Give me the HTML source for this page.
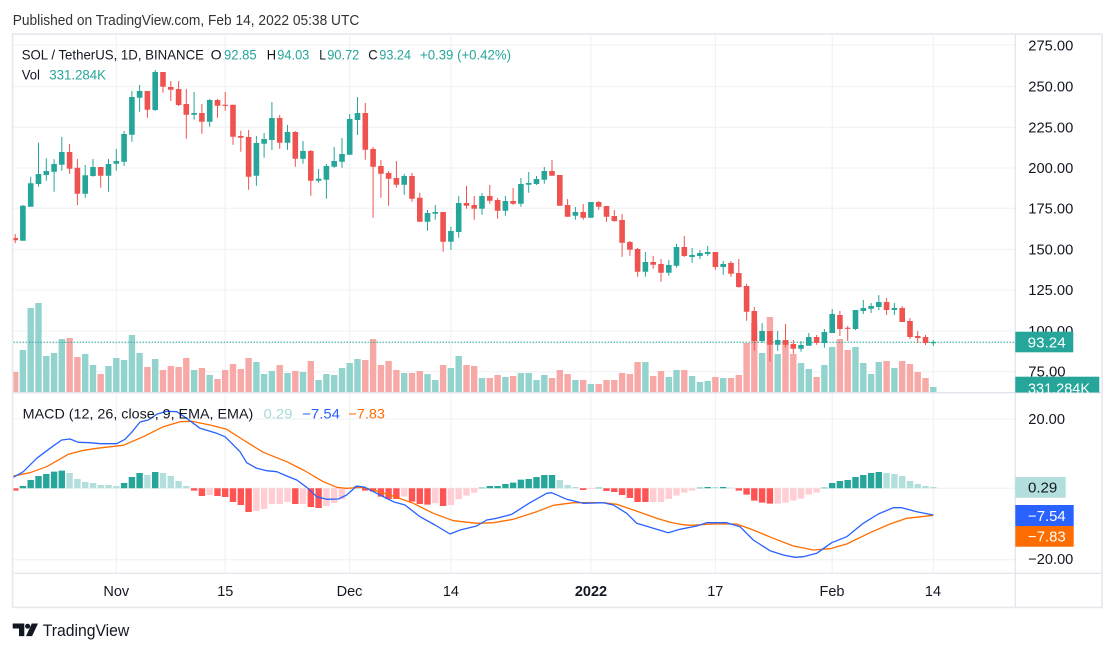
<!DOCTYPE html>
<html><head><meta charset="utf-8"><style>
html,body{margin:0;padding:0;background:#fff;width:1115px;height:652px;overflow:hidden}
svg{display:block}
text{font-family:"Liberation Sans",Arial,sans-serif}
</style></head><body>
<svg width="1115" height="652" viewBox="0 0 1115 652" xmlns="http://www.w3.org/2000/svg">
<defs>
<clipPath id="cp"><rect x="13.5" y="35" width="1001.5" height="357"/></clipPath>
<clipPath id="cm"><rect x="13.5" y="394" width="1001.5" height="179"/></clipPath>
<clipPath id="ca"><rect x="1015" y="35" width="86" height="357.5"/></clipPath>
</defs>
<rect width="1115" height="652" fill="#fff"/>
<text x="12.7" y="25" font-size="14.5" fill="#333" textLength="346.6" lengthAdjust="spacingAndGlyphs">Published on TradingView.com, Feb 14, 2022 05:38 UTC</text>

<!-- grid -->
<g stroke="#eef0f3" stroke-width="1">
<path d="M13.5 45H1015M13.5 86.7H1015M13.5 127.3H1015M13.5 168H1015M13.5 208.3H1015M13.5 249.3H1015M13.5 290H1015M13.5 331H1015M13.5 371.7H1015"/>
<path d="M13.5 419H1015M13.5 488.3H1015M13.5 559.7H1015"/>
<path d="M116.3 35V573M225.2 35V573M349.7 35V573M450.9 35V573M590.9 35V573M715.4 35V573M832.2 35V573M933.3 35V573"/>
</g>

<g clip-path="url(#cp)">
<!-- volume green -->
<path fill="#92d3cd" d="M19.7 350h6.4V392h-6.4zM27.5 308h6.4V392h-6.4zM35.3 303h6.4V392h-6.4zM43.1 356h6.4V392h-6.4zM50.9 353h6.4V392h-6.4zM58.6 339h6.4V392h-6.4zM82 354h6.4V392h-6.4zM89.8 365h6.4V392h-6.4zM105.3 366h6.4V392h-6.4zM113.1 358h6.4V392h-6.4zM120.9 360h6.4V392h-6.4zM128.7 335h6.4V392h-6.4zM136.4 353h6.4V392h-6.4zM152 359h6.4V392h-6.4zM190.9 370h6.4V392h-6.4zM206.5 375h6.4V392h-6.4zM253.2 362h6.4V392h-6.4zM260.9 374h6.4V392h-6.4zM268.7 371h6.4V392h-6.4zM284.3 373h6.4V392h-6.4zM299.8 372h6.4V392h-6.4zM315.4 380h6.4V392h-6.4zM323.2 374h6.4V392h-6.4zM331 375h6.4V392h-6.4zM338.8 368h6.4V392h-6.4zM346.5 363h6.4V392h-6.4zM354.3 359h6.4V392h-6.4zM401 373h6.4V392h-6.4zM424.3 374h6.4V392h-6.4zM432.1 380h6.4V392h-6.4zM447.7 368h6.4V392h-6.4zM455.5 356h6.4V392h-6.4zM478.8 378h6.4V392h-6.4zM502.2 377h6.4V392h-6.4zM517.7 373h6.4V392h-6.4zM525.5 373h6.4V392h-6.4zM533.3 380h6.4V392h-6.4zM541.1 375h6.4V392h-6.4zM572.2 380h6.4V392h-6.4zM587.7 384h6.4V392h-6.4zM642.2 362h6.4V392h-6.4zM665.6 377h6.4V392h-6.4zM673.3 370h6.4V392h-6.4zM688.9 376h6.4V392h-6.4zM696.7 382h6.4V392h-6.4zM704.5 381h6.4V392h-6.4zM720 378h6.4V392h-6.4zM758.9 353h6.4V392h-6.4zM774.5 354h6.4V392h-6.4zM797.8 363h6.4V392h-6.4zM805.6 369h6.4V392h-6.4zM821.2 365h6.4V392h-6.4zM829 347h6.4V392h-6.4zM852.3 347h6.4V392h-6.4zM860.1 363h6.4V392h-6.4zM867.9 374h6.4V392h-6.4zM875.6 362h6.4V392h-6.4zM891.2 368h6.4V392h-6.4zM930.1 387h6.4V392h-6.4z"/>
<!-- volume red -->
<path fill="#f7a9a7" d="M12 372h6.4V392h-6.4zM66.4 338h6.4V392h-6.4zM74.2 357h6.4V392h-6.4zM97.5 374h6.4V392h-6.4zM144.2 367h6.4V392h-6.4zM159.8 370h6.4V392h-6.4zM167.6 366h6.4V392h-6.4zM175.4 367h6.4V392h-6.4zM183.1 358h6.4V392h-6.4zM198.7 368h6.4V392h-6.4zM214.3 379h6.4V392h-6.4zM222 370h6.4V392h-6.4zM229.8 364h6.4V392h-6.4zM237.6 369h6.4V392h-6.4zM245.4 358h6.4V392h-6.4zM276.5 365h6.4V392h-6.4zM292.1 371h6.4V392h-6.4zM307.6 361h6.4V392h-6.4zM362.1 360h6.4V392h-6.4zM369.9 339h6.4V392h-6.4zM377.7 365h6.4V392h-6.4zM385.4 361h6.4V392h-6.4zM393.2 370h6.4V392h-6.4zM408.8 373h6.4V392h-6.4zM416.6 371h6.4V392h-6.4zM439.9 365h6.4V392h-6.4zM463.3 365h6.4V392h-6.4zM471 366h6.4V392h-6.4zM486.6 378h6.4V392h-6.4zM494.4 375h6.4V392h-6.4zM509.9 376h6.4V392h-6.4zM548.8 378h6.4V392h-6.4zM556.6 370h6.4V392h-6.4zM564.4 374h6.4V392h-6.4zM580 380h6.4V392h-6.4zM595.5 384h6.4V392h-6.4zM603.3 380h6.4V392h-6.4zM611.1 380h6.4V392h-6.4zM618.9 373h6.4V392h-6.4zM626.7 374h6.4V392h-6.4zM634.4 362h6.4V392h-6.4zM650 376h6.4V392h-6.4zM657.8 371h6.4V392h-6.4zM681.1 370h6.4V392h-6.4zM712.2 377h6.4V392h-6.4zM727.8 378h6.4V392h-6.4zM735.6 375h6.4V392h-6.4zM743.4 343h6.4V392h-6.4zM751.1 323h6.4V392h-6.4zM766.7 317h6.4V392h-6.4zM782.3 343h6.4V392h-6.4zM790.1 354h6.4V392h-6.4zM813.4 377h6.4V392h-6.4zM836.7 339h6.4V392h-6.4zM844.5 350h6.4V392h-6.4zM883.4 361h6.4V392h-6.4zM899 361h6.4V392h-6.4zM906.8 364h6.4V392h-6.4zM914.5 372h6.4V392h-6.4zM922.3 378h6.4V392h-6.4z"/>

<!-- price line -->
<path d="M13.5 342.3H1015" stroke="#26a69a" stroke-width="1" stroke-dasharray="1.5 1.5"/>

<!-- green candles -->
<path stroke="#26a69a" stroke-width="1" fill="none" d="M22.9 205V240.7M30.7 176.7V206.7M38.5 142.7V186.7M46.3 158.3V180.7M54.1 159.3V191.7M61.8 137V170.7M85.2 165V197.7M93 159V176.7M108.5 159V191.7M116.3 149V170.7M124.1 131V166M131.9 91V141.7M139.6 85V111.7M155.2 70V111M194.1 92V119.7M209.7 99V126.7M256.4 136V185.7M264.1 133V157.7M271.9 102V150M287.5 125V150M303 141V163.7M318.6 169V182.7M326.4 164V198.7M334.2 147V167.7M342 138V167.7M349.7 114V154.7M357.5 97V135M404.2 174V194.7M427.5 210V230.7M435.3 205V219.7M450.9 226.7V249.7M458.7 196V237.7M482 193V214.7M505.4 196V215.7M520.9 178V206.7M528.7 172V192.7M536.5 176V185M544.3 167V183.7M575.4 207V219.7M590.9 202V217.7M645.4 252V276.7M668.8 260V275.7M676.5 244V267.7M692.1 248V262.7M699.9 250V259M707.7 246V256M723.2 261V274.7M762.1 323V343M777.7 331V350.7M801 341V351.7M808.8 333V345.7M824.4 329V347.7M832.2 309V333M855.5 310V330M863.3 300V314M871.1 303V313M878.8 295V310M894.4 303V315M933.3 340V346"/>
<path fill="#26a69a" d="M20.1 205.7h5.6V240.7h-5.6zM27.9 183.3h5.6V206.7h-5.6zM35.7 174h5.6V184h-5.6zM43.5 171h5.6V175h-5.6zM51.3 164h5.6V171.7h-5.6zM59 152h5.6V164.7h-5.6zM82.4 175.3h5.6V193.7h-5.6zM90.2 167h5.6V176h-5.6zM105.7 164h5.6V175.7h-5.6zM113.5 161h5.6V163.7h-5.6zM121.3 134h5.6V161.7h-5.6zM129.1 97h5.6V134.7h-5.6zM136.8 91h5.6V97.7h-5.6zM152.4 72h5.6V110h-5.6zM191.3 113h5.6V114.7h-5.6zM206.9 100h5.6V121.7h-5.6zM253.6 143h5.6V175.7h-5.6zM261.3 139h5.6V143.7h-5.6zM269.1 118h5.6V140h-5.6zM284.7 132h5.6V142.7h-5.6zM300.2 151h5.6V158.7h-5.6zM315.8 178.7h5.6V180.7h-5.6zM323.6 166h5.6V179.7h-5.6zM331.4 161h5.6V166.7h-5.6zM339.2 154h5.6V161.7h-5.6zM346.9 119h5.6V154.7h-5.6zM354.7 113h5.6V120h-5.6zM401.4 176h5.6V184.7h-5.6zM424.7 213h5.6V221.7h-5.6zM432.5 212h5.6V213.7h-5.6zM448.1 231h5.6V241.7h-5.6zM455.9 203h5.6V232h-5.6zM479.2 196h5.6V208.7h-5.6zM502.6 201h5.6V210.7h-5.6zM518.1 184h5.6V203.7h-5.6zM525.9 183h5.6V184.7h-5.6zM533.7 179h5.6V184h-5.6zM541.5 171h5.6V179.7h-5.6zM572.6 212h5.6V215.7h-5.6zM588.1 202h5.6V217.7h-5.6zM642.6 262h5.6V271.7h-5.6zM666 265h5.6V272.7h-5.6zM673.7 247h5.6V265.7h-5.6zM689.3 255h5.6V257h-5.6zM697.1 253h5.6V256h-5.6zM704.9 252h5.6V254h-5.6zM720.4 264h5.6V267h-5.6zM759.3 331h5.6V341h-5.6zM774.9 340h5.6V344.7h-5.6zM798.2 345h5.6V348.7h-5.6zM806 337h5.6V345.7h-5.6zM821.6 332h5.6V343h-5.6zM829.4 314h5.6V333h-5.6zM852.7 310h5.6V329h-5.6zM860.5 308h5.6V311h-5.6zM868.3 306h5.6V308.7h-5.6zM876 302h5.6V307h-5.6zM891.6 308h5.6V310h-5.6zM930.5 342h5.6V343.3h-5.6z"/>
<!-- red candles -->
<path stroke="#ef5350" stroke-width="1" fill="none" d="M15.2 234V243.3M69.6 144V174M77.4 159V205M100.7 167V187.7M147.4 91V117.7M163 72V92.7M170.8 81V101M178.6 81V106M186.3 89V138.7M201.9 104V133.7M217.5 99V117.7M225.2 92V110.7M233 104.7V144.7M240.8 130.7V151.7M248.6 130V189.7M279.7 115V148.7M295.3 131V166.7M310.8 150V195.7M365.3 103V159.7M373.1 147V217.7M380.9 160V197.7M388.6 171V205.7M396.4 161V187.7M412 173V201.7M419.8 192.7V221.7M443.1 212V251.7M466.5 186V208.7M474.2 196V219.7M489.8 185V203.7M497.6 198V218.7M513.1 188V204.7M552 160V175.7M559.8 175V205.7M567.6 199V216.7M583.2 204V219.7M598.7 201V209.7M606.5 206V221.7M614.3 210V221.7M622.1 214V256.7M629.9 241V255.7M637.6 248V276.7M653.2 256V268.7M661 259V281.7M684.3 236V257M715.4 252V269.7M731 261V276.7M738.8 259V287.7M746.6 284V320.7M754.3 307V350.7M769.9 331V361.7M785.5 324V347.7M793.3 340V353.7M816.6 335V344.7M839.9 311V336M847.7 326V341M886.6 298V315M902.2 306V322M910 318V339M917.7 331V343M925.5 335V345"/>
<path fill="#ef5350" d="M12.4 238h5.6V240.3h-5.6zM66.8 152h5.6V168.7h-5.6zM74.6 167.7h5.6V193.7h-5.6zM97.9 167h5.6V175.7h-5.6zM144.6 91h5.6V109.7h-5.6zM160.2 72h5.6V86.7h-5.6zM168 87h5.6V89.7h-5.6zM175.8 89h5.6V105h-5.6zM183.5 104h5.6V114.7h-5.6zM199.1 113h5.6V121.7h-5.6zM214.7 100h5.6V105.7h-5.6zM222.4 104.7h5.6V105.9h-5.6zM230.2 104.7h5.6V136.7h-5.6zM238 136h5.6V137.7h-5.6zM245.8 137h5.6V176.7h-5.6zM276.9 118h5.6V142.7h-5.6zM292.5 132h5.6V158.7h-5.6zM308 151h5.6V180.7h-5.6zM362.5 113h5.6V149.7h-5.6zM370.3 149h5.6V166.7h-5.6zM378.1 166h5.6V173.7h-5.6zM385.8 173h5.6V178.7h-5.6zM393.6 178h5.6V184.7h-5.6zM409.2 176h5.6V198.7h-5.6zM417 197.7h5.6V221.7h-5.6zM440.3 212h5.6V241.7h-5.6zM463.7 203h5.6V205.7h-5.6zM471.4 205h5.6V208.7h-5.6zM487 196h5.6V200.7h-5.6zM494.8 200h5.6V210.7h-5.6zM510.3 201h5.6V203.7h-5.6zM549.2 171h5.6V175.7h-5.6zM557 175h5.6V205.7h-5.6zM564.8 205h5.6V216.7h-5.6zM580.4 212h5.6V217.7h-5.6zM595.9 202h5.6V206.7h-5.6zM603.7 206h5.6V216.7h-5.6zM611.5 216h5.6V221h-5.6zM619.3 220h5.6V242.7h-5.6zM627.1 242h5.6V249.7h-5.6zM634.8 249h5.6V271.7h-5.6zM650.4 262h5.6V264.7h-5.6zM658.2 264h5.6V272.7h-5.6zM681.5 247h5.6V256h-5.6zM712.6 252h5.6V267h-5.6zM728.2 263h5.6V273.7h-5.6zM736 273h5.6V287h-5.6zM743.8 286h5.6V311.7h-5.6zM751.5 311h5.6V341h-5.6zM767.1 331h5.6V344.7h-5.6zM782.7 340h5.6V344.7h-5.6zM790.5 344h5.6V348.7h-5.6zM813.8 337h5.6V343h-5.6zM837.1 315h5.6V329h-5.6zM844.9 327.7h5.6V328.9h-5.6zM883.8 302h5.6V310h-5.6zM899.4 308h5.6V322h-5.6zM907.2 321h5.6V337h-5.6zM914.9 336h5.6V338h-5.6zM922.7 337h5.6V343h-5.6z"/>
</g>

<!-- legend -->
<g font-size="14">
<text x="21.7" y="59.3" fill="#131722" textLength="182.3" lengthAdjust="spacingAndGlyphs">SOL / TetherUS, 1D, BINANCE</text>
<text x="210.7" y="59.3" fill="#131722" textLength="11" lengthAdjust="spacingAndGlyphs">O</text>
<text x="224" y="59.3" fill="#26a69a" textLength="32.7" lengthAdjust="spacingAndGlyphs">92.85</text>
<text x="266.7" y="59.3" fill="#131722" textLength="9.3" lengthAdjust="spacingAndGlyphs">H</text>
<text x="277.3" y="59.3" fill="#26a69a" textLength="32" lengthAdjust="spacingAndGlyphs">94.03</text>
<text x="319.3" y="59.3" fill="#131722" textLength="6.7" lengthAdjust="spacingAndGlyphs">L</text>
<text x="327.3" y="59.3" fill="#26a69a" textLength="32" lengthAdjust="spacingAndGlyphs">90.72</text>
<text x="368.3" y="59.3" fill="#131722" textLength="9.4" lengthAdjust="spacingAndGlyphs">C</text>
<text x="379.3" y="59.3" fill="#26a69a" textLength="31.7" lengthAdjust="spacingAndGlyphs">93.24</text>
<text x="420" y="59.3" fill="#26a69a" textLength="91" lengthAdjust="spacingAndGlyphs">+0.39 (+0.42%)</text>
<text x="21.7" y="79.3" fill="#131722" textLength="18.3" lengthAdjust="spacingAndGlyphs">Vol</text>
<text x="49.3" y="79.3" fill="#26a69a" textLength="56.7" lengthAdjust="spacingAndGlyphs">331.284K</text>
</g>

<!-- MACD pane -->
<g clip-path="url(#cm)">
<path fill="#26a69a" d="M19.7 486h6.4V488.3h-6.4zM27.5 480h6.4V488.3h-6.4zM35.3 476h6.4V488.3h-6.4zM43.1 474h6.4V488.3h-6.4zM50.9 471.6h6.4V488.3h-6.4zM58.6 470.6h6.4V488.3h-6.4zM120.9 483h6.4V488.3h-6.4zM128.7 477h6.4V488.3h-6.4zM136.4 473h6.4V488.3h-6.4zM152 472h6.4V488.3h-6.4zM354.3 486h6.4V488.3h-6.4zM478.8 487.6h6.4V488.3h-6.4zM486.6 486h6.4V488.3h-6.4zM494.4 486h6.4V488.3h-6.4zM502.2 484h6.4V488.3h-6.4zM509.9 482.6h6.4V488.3h-6.4zM517.7 479.6h6.4V488.3h-6.4zM525.5 479h6.4V488.3h-6.4zM533.3 477h6.4V488.3h-6.4zM541.1 475h6.4V488.3h-6.4zM548.8 475h6.4V488.3h-6.4zM595.5 487.6h6.4V488.3h-6.4zM696.7 487.6h6.4V488.3h-6.4zM704.5 487h6.4V488.3h-6.4zM720 487h6.4V488.3h-6.4zM821.2 487.6h6.4V488.3h-6.4zM829 483h6.4V488.3h-6.4zM836.7 481h6.4V488.3h-6.4zM844.5 480h6.4V488.3h-6.4zM852.3 477h6.4V488.3h-6.4zM860.1 475h6.4V488.3h-6.4zM867.9 473h6.4V488.3h-6.4zM875.6 472h6.4V488.3h-6.4z"/>
<path fill="#b2dfdb" d="M66.4 473h6.4V488.3h-6.4zM74.2 479h6.4V488.3h-6.4zM82 482h6.4V488.3h-6.4zM89.8 483h6.4V488.3h-6.4zM97.5 485h6.4V488.3h-6.4zM105.3 485h6.4V488.3h-6.4zM113.1 486h6.4V488.3h-6.4zM144.2 475h6.4V488.3h-6.4zM159.8 473h6.4V488.3h-6.4zM167.6 476h6.4V488.3h-6.4zM175.4 481h6.4V488.3h-6.4zM183.1 486h6.4V488.3h-6.4zM556.6 480h6.4V488.3h-6.4zM564.4 485h6.4V488.3h-6.4zM572.2 487h6.4V488.3h-6.4zM712.2 487h6.4V488.3h-6.4zM727.8 487.6h6.4V488.3h-6.4zM883.4 473h6.4V488.3h-6.4zM891.2 474h6.4V488.3h-6.4zM899 476h6.4V488.3h-6.4zM906.8 481h6.4V488.3h-6.4zM914.5 484h6.4V488.3h-6.4zM922.3 486h6.4V488.3h-6.4zM930.1 487h6.4V488.3h-6.4z"/>
<path fill="#ff5252" d="M12 488.3h6.4V490.6h-6.4zM190.9 488.3h6.4V490.6h-6.4zM198.7 488.3h6.4V496h-6.4zM214.3 488.3h6.4V496h-6.4zM222 488.3h6.4V497h-6.4zM229.8 488.3h6.4V502h-6.4zM237.6 488.3h6.4V505h-6.4zM245.4 488.3h6.4V512h-6.4zM292.1 488.3h6.4V504h-6.4zM307.6 488.3h6.4V507h-6.4zM315.4 488.3h6.4V508h-6.4zM362.1 488.3h6.4V490.6h-6.4zM369.9 488.3h6.4V491.6h-6.4zM377.7 488.3h6.4V496.6h-6.4zM385.4 488.3h6.4V499h-6.4zM393.2 488.3h6.4V499h-6.4zM408.8 488.3h6.4V501.6h-6.4zM416.6 488.3h6.4V504h-6.4zM424.3 488.3h6.4V504.6h-6.4zM439.9 488.3h6.4V506h-6.4zM580 488.3h6.4V490h-6.4zM603.3 488.3h6.4V491h-6.4zM611.1 488.3h6.4V492h-6.4zM618.9 488.3h6.4V495h-6.4zM626.7 488.3h6.4V498h-6.4zM634.4 488.3h6.4V502h-6.4zM642.2 488.3h6.4V502h-6.4zM735.6 488.3h6.4V490.6h-6.4zM743.4 488.3h6.4V494.6h-6.4zM751.1 488.3h6.4V500.6h-6.4zM758.9 488.3h6.4V502.6h-6.4zM766.7 488.3h6.4V503.6h-6.4z"/>
<path fill="#ffcdd2" d="M206.5 488.3h6.4V495h-6.4zM253.2 488.3h6.4V511h-6.4zM260.9 488.3h6.4V509h-6.4zM268.7 488.3h6.4V504h-6.4zM276.5 488.3h6.4V504h-6.4zM284.3 488.3h6.4V502h-6.4zM299.8 488.3h6.4V504h-6.4zM323.2 488.3h6.4V506h-6.4zM331 488.3h6.4V503h-6.4zM338.8 488.3h6.4V499.3h-6.4zM346.5 488.3h6.4V489.3h-6.4zM401 488.3h6.4V496.6h-6.4zM432.1 488.3h6.4V503.3h-6.4zM447.7 488.3h6.4V505h-6.4zM455.5 488.3h6.4V499.3h-6.4zM463.3 488.3h6.4V495.6h-6.4zM471 488.3h6.4V492.6h-6.4zM587.7 488.3h6.4V489h-6.4zM650 488.3h6.4V502h-6.4zM657.8 488.3h6.4V502h-6.4zM665.6 488.3h6.4V499h-6.4zM673.3 488.3h6.4V495.6h-6.4zM681.1 488.3h6.4V492.6h-6.4zM688.9 488.3h6.4V490.6h-6.4zM774.5 488.3h6.4V503.6h-6.4zM782.3 488.3h6.4V502.6h-6.4zM790.1 488.3h6.4V500.6h-6.4zM797.8 488.3h6.4V498.6h-6.4zM805.6 488.3h6.4V494.6h-6.4zM813.4 488.3h6.4V492.6h-6.4z"/>
<polyline fill="none" stroke="#ff6d00" stroke-width="1.3" stroke-linejoin="round" points="13.3,476 30,472.7 46.7,466.7 68.3,454.3 81.7,450.7 96.7,448.3 123.3,445.3 143.3,436.7 163.3,426.7 180,421.7 191.7,421.3 210,425 226.7,429.3 243.3,440 263.3,452.3 286.7,461.7 303.3,470 323.3,481.7 336.7,487.3 346.7,488.4 360,487.3 373.3,490 390,495 413.3,503.3 433.3,513.3 453.3,520.7 476.7,523.3 493.3,522.7 513.3,519.3 536.7,511.7 553.3,505.3 573.3,502.7 603.3,502.7 616.7,504.3 633.3,510 656.7,518.3 670,522.3 680,524.3 690,525.3 713.3,524 736.7,524 753.3,530 773.3,538.3 793.3,546 813.3,550 830,548.7 846.7,544 870,532.7 890,524 906.7,518.3 933.3,515.3"/>
<polyline fill="none" stroke="#2962ff" stroke-width="1.3" stroke-linejoin="round" points="13.3,477.3 23.3,471.7 36.7,458.3 50,448.3 61.7,440 70,439 78.3,442.3 90,442.7 100,443.7 116.7,443.7 125,439.3 131.7,432.3 140,422 148.3,420 156.7,414.3 166.7,411.3 176.7,411.7 186.7,418.3 200,428.3 216.7,433.3 225,436.7 231.7,443.3 240,451.7 246.7,462.7 256.7,468.3 266.7,470.7 276.7,471.7 286.7,476 296.7,480 306.7,487.3 316.7,496.7 326.7,499.3 338.3,499 346.7,495 356.7,486 365,487.3 376.7,493.3 393.3,501.7 405,505 420,516.7 435,525 450,534 460,530 476.7,526 486.7,520 496.7,518.3 511.7,514.3 530,502.7 546.7,493.3 551.7,492.7 566.7,499.3 583.3,503.3 603.3,502.7 613.3,505 626.7,513.3 636.7,523.3 653.3,528.3 668.3,532.7 680,529.3 696.7,526 706.7,522.7 726.7,522.7 740,526.7 753.3,540 770,550.7 783.3,555 795,557.3 803.3,556.7 816.7,553.3 831.7,542.7 846.7,536.7 863.3,523.3 878.3,514 893.3,507.7 901.7,507.7 916.7,511.7 933.3,515"/>
</g>
<g font-size="14">
<text x="22.7" y="418.3" fill="#131722" textLength="230.6" lengthAdjust="spacingAndGlyphs">MACD (12, 26, close, 9, EMA, EMA)</text>
<text x="263.5" y="418.3" fill="#a7dbd6" textLength="29" lengthAdjust="spacingAndGlyphs">0.29</text>
<text x="302.2" y="418.3" fill="#2962ff" textLength="37.8" lengthAdjust="spacingAndGlyphs">−7.54</text>
<text x="348.3" y="418.3" fill="#ff6d00" textLength="36.7" lengthAdjust="spacingAndGlyphs">−7.83</text>
</g>

<!-- separators / frame -->
<g stroke="#e0e3eb" fill="none">
<path d="M1015.3 34V607" stroke-width="1.2"/>
<path d="M13 392.7H1101" stroke-width="1.4"/>
<path d="M13 573.3H1101" stroke-width="1.2"/>
<rect x="12.6" y="34" width="1089.4" height="573.4" stroke-width="1.6" stroke="#e6e8ee"/>
</g>

<!-- price axis -->
<g font-size="14.5" fill="#131722">
<text x="1028.3" y="50.3" textLength="45" lengthAdjust="spacingAndGlyphs">275.00</text>
<text x="1028.3" y="91.7" textLength="45" lengthAdjust="spacingAndGlyphs">250.00</text>
<text x="1028.3" y="132.3" textLength="45" lengthAdjust="spacingAndGlyphs">225.00</text>
<text x="1028.3" y="173" textLength="45" lengthAdjust="spacingAndGlyphs">200.00</text>
<text x="1028.3" y="213.3" textLength="45" lengthAdjust="spacingAndGlyphs">175.00</text>
<text x="1028.3" y="254.3" textLength="45" lengthAdjust="spacingAndGlyphs">150.00</text>
<text x="1028.3" y="295" textLength="45" lengthAdjust="spacingAndGlyphs">125.00</text>
<text x="1028.3" y="336" textLength="45" lengthAdjust="spacingAndGlyphs">100.00</text>
<text x="1028.3" y="376.7" textLength="37.3" lengthAdjust="spacingAndGlyphs">75.00</text>
</g>
<rect x="1015.3" y="331.7" width="58" height="20.6" fill="#26a69a"/>
<text x="1027.7" y="347.7" font-size="14.5" fill="#fff" textLength="38" lengthAdjust="spacingAndGlyphs">93.24</text>
<g clip-path="url(#ca)">
<rect x="1015.3" y="376.7" width="84" height="17" fill="#26a69a"/>
<text x="1028" y="393.5" font-size="14.5" fill="#fff" textLength="62" lengthAdjust="spacingAndGlyphs">331.284K</text>
</g>

<!-- MACD axis -->
<g font-size="14.5">
<text x="1028.3" y="424" fill="#131722" textLength="36.7" lengthAdjust="spacingAndGlyphs">20.00</text>
<text x="1028.3" y="564" fill="#131722" textLength="45" lengthAdjust="spacingAndGlyphs">−20.00</text>
<rect x="1015.3" y="477" width="50.4" height="20.7" fill="#b2dfdb"/>
<text x="1028" y="492.7" fill="#131722" textLength="29.3" lengthAdjust="spacingAndGlyphs">0.29</text>
<rect x="1015.3" y="505" width="58.4" height="21" fill="#2962ff"/>
<text x="1028" y="521" fill="#fff" textLength="37.7" lengthAdjust="spacingAndGlyphs">−7.54</text>
<rect x="1015.3" y="526" width="58.4" height="20.7" fill="#ff6d00"/>
<text x="1028" y="541.7" fill="#fff" textLength="37.7" lengthAdjust="spacingAndGlyphs">−7.83</text>
</g>

<!-- time axis -->
<g font-size="14.5" fill="#131722" text-anchor="middle">
<text x="116.3" y="596">Nov</text>
<text x="225.3" y="596">15</text>
<text x="349.5" y="596">Dec</text>
<text x="450.9" y="596">14</text>
<text x="591" y="596" font-weight="bold">2022</text>
<text x="715.3" y="596">17</text>
<text x="832" y="596">Feb</text>
<text x="933" y="596">14</text>
</g>

<!-- logo -->
<g fill="#131722">
<path d="M12.7 623.5h11.6v12.6h-5.3v-7.6h-6.3z"/>
<circle cx="27.6" cy="626.2" r="2.5"/>
<path d="M31.8 623.5h6.2l-5.9 12.6h-6.1z"/>
</g>
<text x="42.7" y="636" font-size="17" fill="#131722" textLength="86.6" lengthAdjust="spacingAndGlyphs">TradingView</text>
</svg>
</body></html>
